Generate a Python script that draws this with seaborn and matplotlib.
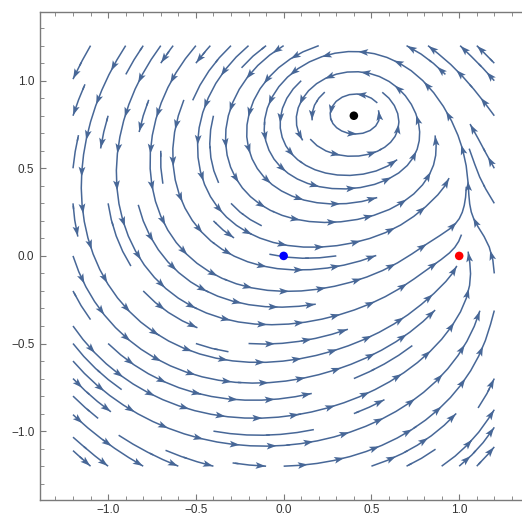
import numpy as np
import matplotlib
matplotlib.use("Agg")
import matplotlib.pyplot as plt
import matplotlib.patches as mpatches
from matplotlib.ticker import MultipleLocator, FuncFormatter
import pandas as pd
import seaborn as sns

# Marked points
point_x = [0.0, 1.0, 0.4]
point_y = [0.0, 0.0, 0.8]
point_name = ["origin", "unit", "centre"]
point_color = ["#0000ff", "#ff0000", "#000000"]

# Rest point of the flow
centre_x, centre_y = 0.4, 0.8

# Flow headings (degrees, counter-clockwise from +x) at sample locations
flow_x = [-1.12, -0.82, -0.60, -0.33, -0.15, 0.10, 0.38, 0.73, 0.90, 1.12,
          -1.18, -0.33, 0.09, 0.22, 0.39, 0.39, 0.59, 0.70, 0.83, 1.00, 1.12, 0.76,
          -1.20, -0.86, -0.50, -0.21, -0.38, -0.10, 0.38, 0.85, 1.13, 0.98,
          -1.19, -0.82, -0.48, -0.29, 0.19, 0.73, 1.04, 1.17,
          -1.15, -0.70, -0.15, 0.28, 0.64, 0.83, 0.93,
          -1.14, -0.60, -0.42, -0.25, 0.00, 0.50, 0.64, 0.74, 0.93, 1.05, 1.12,
          -1.10, -0.86, -0.67, -0.40, -0.29, 0.05, 0.28, 0.83, 1.00, 1.08, 1.19,
          -1.09, -0.48, -0.29, 0.43, 0.72, 1.16,
          -1.10, -0.59, -0.38, -0.19, 0.24, 0.43, 0.53, 0.68, 0.77, 0.96, 1.15]
flow_y = [1.09, 1.13, 1.12, 1.10, 1.05, 1.10, 1.06, 1.13, 1.15, 1.12,
          0.89, 0.83, 0.77, 0.79, 0.89, 0.69, 0.79, 0.73, 0.70, 0.72, 0.83, 1.00,
          0.51, 0.51, 0.64, 0.70, 0.43, 0.49, 0.49, 0.55, 0.39, 0.39,
          0.32, 0.28, 0.28, 0.24, 0.32, 0.37, 0.24, 0.28,
          0.13, 0.13, 0.13, 0.15, 0.15, 0.13, 0.07,
          -0.21, -0.05, 0.05, -0.14, 0.00, 0.00, -0.04, -0.14, -0.20, -0.14, -0.10,
          -0.42, -0.27, -0.50, -0.27, -0.41, -0.31, -0.33, -0.29, -0.35, -0.48, -0.37,
          -0.79, -0.60, -0.75, -0.60, -0.63, -0.73,
          -1.10, -1.18, -1.00, -0.90, -1.09, -1.15, -0.98, -0.82, -1.14, -0.98, -1.15]
flow_deg = [235, 240, 238, 238, 235, 200, 180, 160, 145, 135,
            250, 262, 270, 260, 180, 0, 80, 75, 95, 105, 120, 135,
            270, 272, 265, 270, 290, 300, 0, 70, 115, 75,
            275, 280, 295, 310, 357, 10, 80, 110,
            280, 290, 340, 5, 15, 18, 22,
            297, 320, 338, 345, 3, 12, 30, 40, 55, 85, 92,
            311, 315, 330, 340, 355, 5, 10, 50, 70, 65, 72,
            318, 340, 352, 15, 40, 55,
            320, 342, 350, 357, 10, 15, 25, 35, 37, 47, 45]

# Line the flow gathers onto, rising from the red point
wall_x0, wall_slope, wall_y = 1.0, 0.15, 0.12
wall_sx, wall_sy, wall_pull = 0.10, 0.20, 8.0

# Small clear eye around the rest point (semi-axes in x and y)
eye_ax, eye_ay = 0.10, 0.06

stream_color = "#476797"
DEG = 4


def monomials(x, y):
    u, v = np.asarray(x) / 1.2, np.asarray(y) / 1.2
    return np.stack([u ** i * v ** j for i in range(DEG + 1)
                     for j in range(DEG + 1 - i)], axis=-1)


# Least-squares polynomial vector field following the sampled headings
fx, fy = np.array(flow_x), np.array(flow_y)
th = np.deg2rad(flow_deg)
M = monomials(fx, fy)
n = M.shape[1]
cs, sn = np.cos(th)[:, None], np.sin(th)[:, None]
speed = np.hypot(fx - centre_x, fy - centre_y)
A_along = np.hstack([M * cs, M * sn])
A_cross = 2.0 * np.hstack([M * sn, -M * cs])
Mc = monomials([centre_x], [centre_y])
A_rest = 10.0 * np.vstack([np.hstack([Mc, 0 * Mc]), np.hstack([0 * Mc, Mc])])
A_reg = np.sqrt(1e-3) * np.eye(2 * n)
A = np.vstack([A_along, A_cross, A_rest, A_reg])
b = np.concatenate([speed, np.zeros(len(fx)), np.zeros(2), np.zeros(2 * n)])
coef, *_ = np.linalg.lstsq(A, b, rcond=None)
coef_u, coef_v = coef[:n], coef[n:]

gx = np.linspace(-1.2, 1.2, 241)
gy = np.linspace(-1.2, 1.2, 241)
GX, GY = np.meshgrid(gx, gy)
MG = monomials(GX, GY)
U = MG @ coef_u
V = MG @ coef_v
wall_line = wall_x0 + wall_slope * GY
bump = np.exp(-0.5 * ((GX - wall_line) / wall_sx) ** 2 - 0.5 * ((GY - wall_y) / wall_sy) ** 2)
U = U - wall_pull * (GX - wall_line) * bump
eye = ((GX - centre_x) / eye_ax) ** 2 + ((GY - centre_y) / eye_ay) ** 2 < 1
U = np.ma.masked_where(eye, U)
V = np.ma.masked_where(eye, V)

sns.set_theme(style="ticks")
plt.rcParams["font.family"] = ["Liberation Sans", "DejaVu Sans"]

fig = plt.figure(figsize=(5.22, 5.17), dpi=100)
ax = fig.add_axes([40 / 522, 17 / 517, 488 / 522, 488 / 517])
ax.set_xlim(-1.388, 1.392)
ax.set_ylim(-1.393, 1.392)

sp = ax.streamplot(gx, gy, U, V, density=0.85, color=stream_color,
                   linewidth=1.1, arrowstyle="-", minlength=0.05)

# Rebuild each streamline as one polyline
polylines = []
cur = None
for s in sp.lines.get_segments():
    s = np.asarray(s)
    if len(s) > 2:
        if cur is not None:
            polylines.append(np.array(cur))
            cur = None
        polylines.append(s)
        continue
    if cur is not None and np.allclose(s[0], cur[-1]):
        cur.append(s[1])
    else:
        if cur is not None:
            polylines.append(np.array(cur))
        cur = [s[0], s[1]]
if cur is not None:
    polylines.append(np.array(cur))

# Arrowheads spaced along each streamline, ending at its tip
to_px = ax.transData
to_data = ax.transData.inverted()
head_len, head_w, gap, min_sep = 10.0, 6.8, 37.0, 16.0
placed = []
for line in sorted(polylines, key=len, reverse=True):
    px = to_px.transform(line)
    d = np.hypot(*np.diff(px, axis=0).T)
    cum = np.concatenate([[0], np.cumsum(d)])
    total = cum[-1]
    if total < 16:
        continue
    pos = total - 0.5
    while pos > 10:
        tip = np.array([np.interp(pos, cum, px[:, 0]), np.interp(pos, cum, px[:, 1])])
        back = pos - 6
        bpt = np.array([np.interp(back, cum, px[:, 0]), np.interp(back, cum, px[:, 1])])
        dvec = tip - bpt
        nrm = np.hypot(*dvec)
        crowded = any(np.hypot(*(tip - q)) < min_sep for q in placed)
        if nrm > 0 and not crowded:
            placed.append(tip)
            dvec /= nrm
            perp = np.array([-dvec[1], dvec[0]])
            verts = np.array([tip,
                              tip - head_len * dvec + 0.5 * head_w * perp,
                              tip - 0.78 * head_len * dvec,
                              tip - head_len * dvec - 0.5 * head_w * perp])
            ax.add_patch(mpatches.Polygon(to_data.transform(verts), closed=True,
                                          facecolor=stream_color, edgecolor="none",
                                          zorder=3))
        pos -= gap

pts = pd.DataFrame({"x": point_x, "y": point_y, "name": point_name})
sns.scatterplot(data=pts, x="x", y="y", hue="name",
                palette=dict(zip(point_name, point_color)), s=38,
                linewidth=0, legend=False, ax=ax, zorder=5)
ax.set_xlabel("")
ax.set_ylabel("")

fmt = FuncFormatter(lambda v, _: f"{0.0 if abs(v) < 1e-9 else v:.1f}".replace("-", "\u2212"))
for axis in (ax.xaxis, ax.yaxis):
    axis.set_major_locator(MultipleLocator(0.5))
    axis.set_minor_locator(MultipleLocator(0.1))
    axis.set_major_formatter(fmt)
for side in ax.spines.values():
    side.set_color("#7a7a7a")
    side.set_linewidth(1.0)
ax.tick_params(which="both", direction="in", top=True, right=True,
               colors="#7a7a7a", labelcolor="#333333", labelsize=8.5)
ax.tick_params(which="major", length=4.5, width=0.8)
ax.tick_params(which="minor", length=2.6, width=0.6)
ax.tick_params(axis="x", pad=3)
ax.tick_params(axis="y", pad=4)

fig.savefig("out.png", dpi=100)
